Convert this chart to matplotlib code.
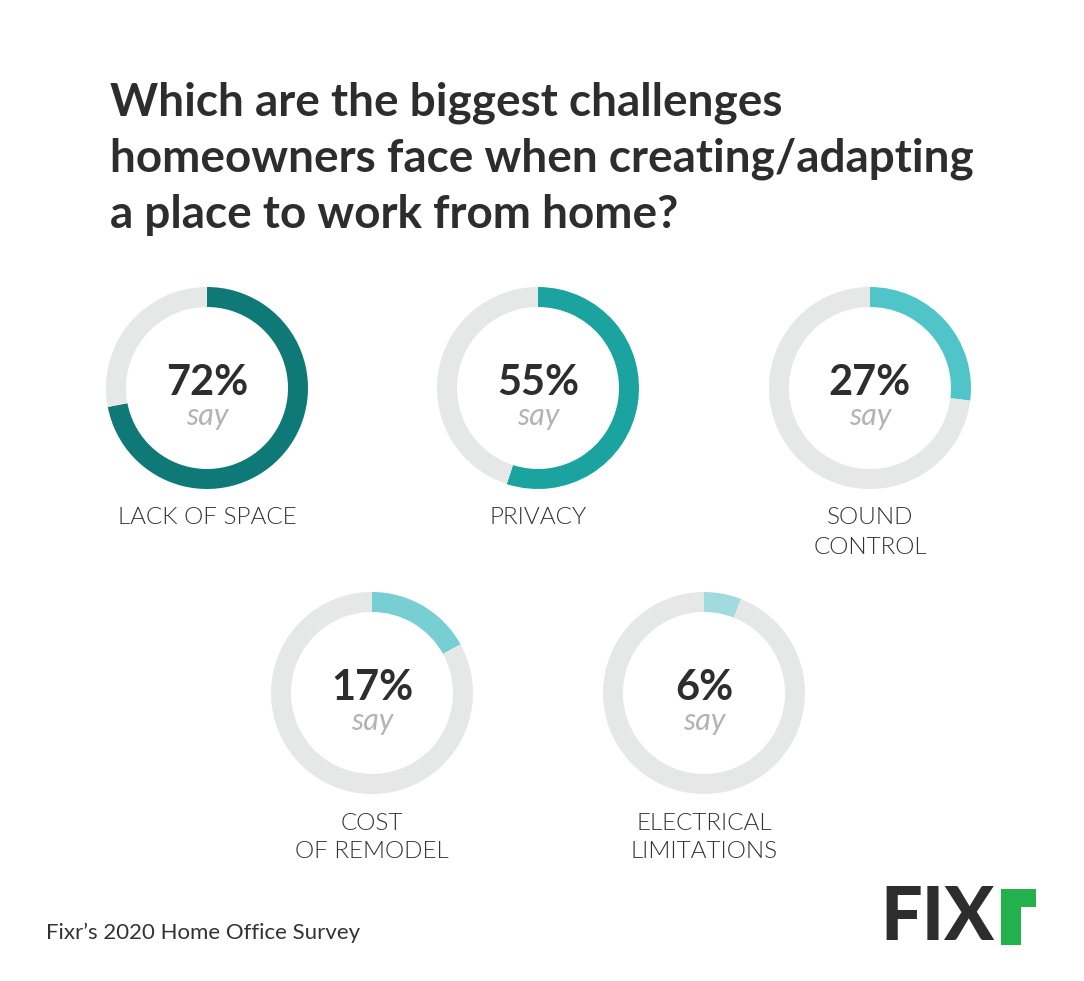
import matplotlib
matplotlib.use("Agg")
import matplotlib.pyplot as plt
from matplotlib.patches import Polygon

W, H = 1084, 981
categories = ["LACK OF SPACE", "PRIVACY", "SOUND\nCONTROL", "COST\nOF REMODEL", "ELECTRICAL\nLIMITATIONS"]
values = [72, 55, 27, 17, 6]
colors = ["#0e7976", "#1ba3a0", "#4fc4c9", "#78cfd3", "#a1dbdf"]
title_lines = ["Which are the biggest challenges",
               "homeowners face when creating/adapting",
               "a place to work from home?"]
source = "Fixr\u2019s 2020 Home Office Survey"

centers = [(207, 388), (538, 388), (870, 388), (372, 693), (704, 693)]
R = 101
ring = 20

plt.rcParams['font.family'] = ['Lato', 'DejaVu Sans']
fig = plt.figure(figsize=(W / 100, H / 100), dpi=100)
fig.patch.set_facecolor("white")

bg = fig.add_axes([0, 0, 1, 1])
bg.set_xlim(0, W)
bg.set_ylim(H, 0)
bg.axis("off")

for i, line in enumerate(title_lines):
    bg.text(110, 103 + i * 56, line, fontsize=33, fontweight="bold", color="#2d2d2d",
            va="center", ha="left")
bg.text(46, 933, source, fontsize=16, color="#333333", va="center", ha="left")

for cat, val, col, (cx, cy) in zip(categories, values, colors, centers):
    ax = fig.add_axes([(cx - R) / W, 1 - (cy + R) / H, 2 * R / W, 2 * R / H])
    ax.pie([val, 100 - val], colors=[col, "#e6e7e7"], startangle=90, counterclock=False,
           radius=1, wedgeprops=dict(width=ring / R, linewidth=0))
    ax.set_xlim(-1, 1)
    ax.set_ylim(-1, 1)
    ax.set_aspect("auto")
    ax.axis("off")
    bg.text(cx, cy - 5, f"{val}%", fontsize=30, fontweight="bold", color="#2d2d2d",
            ha="center", va="center")
    bg.text(cx, cy + 28, "say", fontsize=22, fontstyle="italic", color="#b3b3b3",
            ha="center", va="center")
    for j, ln in enumerate(cat.split("\n")):
        bg.text(cx, cy + 130 + j * 29, ln, fontsize=17.5, fontweight=300, color="#333333",
                ha="center", va="center")

# Logo
bg.text(880, 919, "FIX", fontsize=53, fontweight=900, color="#2d2d2d",
        ha="left", va="center")
green = Polygon([(1001, 945), (1001, 889), (1036, 889), (1036, 907), (1021, 907), (1021, 945)],
                closed=True, facecolor="#23b14d", edgecolor="none")
bg.add_patch(green)

fig.savefig("out.png", dpi=100, facecolor="white")
